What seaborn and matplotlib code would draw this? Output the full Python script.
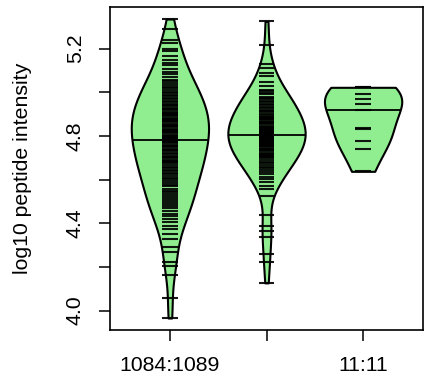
import numpy as np
import pandas as pd
import matplotlib
matplotlib.use("Agg")
import matplotlib.pyplot as plt
import seaborn as sns

# ---- data (log10 peptide intensity per group) ----
groups = ["1084:1089", "group2", "11:11"]
tick_labels = ["1084:1089", "", "11:11"]

g1_values = [
    3.966, 4.058, 4.165, 4.206, 4.221,
    4.267, 4.292,
    4.330, 4.352,
    4.372, 4.388, 4.404,
    4.421, 4.432, 4.444, 4.456,
    4.469, 4.478, 4.487, 4.496, 4.506,
    4.518, 4.526, 4.534, 4.542, 4.550, 4.558,
    4.569, 4.577, 4.585, 4.593, 4.601, 4.609,
    4.618, 4.625, 4.632, 4.639, 4.646, 4.653, 4.660,
    4.668, 4.674, 4.680, 4.686, 4.692, 4.698, 4.704, 4.710,
    4.718, 4.724, 4.730, 4.736, 4.742, 4.748, 4.754, 4.760,
    4.768, 4.773, 4.779, 4.784, 4.790, 4.795, 4.801, 4.806, 4.812,
    4.818, 4.823, 4.829, 4.834, 4.840, 4.845, 4.851, 4.856, 4.862,
    4.868, 4.873, 4.879, 4.884, 4.890, 4.895, 4.901, 4.906, 4.912,
    4.918, 4.924, 4.930, 4.936, 4.942, 4.948, 4.954, 4.960,
    4.968, 4.975, 4.982, 4.989, 4.996, 5.003, 5.010,
    5.018, 5.026, 5.034, 5.042, 5.050, 5.058,
    5.070, 5.082, 5.094, 5.106,
    5.125, 5.136, 5.150,
    5.165, 5.188, 5.199,
    5.226, 5.240,
    5.290, 5.336,
]

g2_values = [
    4.127, 4.223, 4.260, 4.336, 4.363, 4.386, 4.440, 4.523,
    4.556, 4.572, 4.589,
    4.603, 4.614, 4.626, 4.637, 4.646,
    4.653, 4.660, 4.668, 4.676, 4.683, 4.690, 4.697,
    4.702, 4.708, 4.713, 4.719, 4.724, 4.730, 4.736, 4.741, 4.747,
    4.752, 4.756, 4.761, 4.765, 4.770, 4.774, 4.779, 4.783, 4.788, 4.792, 4.797,
    4.802, 4.806, 4.811, 4.815, 4.820, 4.824, 4.829, 4.833, 4.838, 4.842, 4.847,
    4.853, 4.859, 4.862, 4.865, 4.871, 4.877, 4.883, 4.887, 4.889, 4.895,
    4.903, 4.911, 4.915, 4.919, 4.927, 4.935, 4.943, 4.948, 4.956,
    4.962, 4.968, 4.975, 4.980, 4.993, 4.999, 5.004,
    5.012, 5.027, 5.048, 5.073, 5.090, 5.113, 5.130, 5.218, 5.325,
]

g3_values = [5.023, 5.023, 4.994, 4.970, 4.945, 4.921, 4.837, 4.830, 4.775, 4.740, 4.638]

bandwidths = [0.075, 0.07, 0.08]

values_by_group = [g1_values, g2_values, g3_values]
df = pd.DataFrame({
    "group": np.repeat(groups, [len(v) for v in values_by_group]),
    "intensity": np.concatenate([np.asarray(v, float) for v in values_by_group]),
})

# ---- style ----
sns.set_style("white")
plt.rcParams["font.family"] = ["Liberation Sans", "DejaVu Sans"]

fig = plt.figure(figsize=(4.31, 3.79), dpi=100)
ax = fig.add_axes([110 / 431, 1 - 330 / 379, 313 / 431, 323 / 379])

bean_fill = "#90EE90"
line_half = 0.08

for i, (name, bw) in enumerate(zip(groups, bandwidths)):
    sub = df[df["group"] == name]
    sd = float(np.std(sub["intensity"], ddof=1))
    n_before = len(ax.collections)
    sns.violinplot(data=sub, x="group", y="intensity", order=groups, ax=ax,
                   color=bean_fill, saturation=1, linecolor="black", linewidth=1.5,
                   inner=None, cut=0, width=0.8, density_norm="width",
                   bw_method=bw / sd)
    coll = ax.collections[n_before]
    verts = coll.get_paths()[0].vertices
    right = verts[verts[:, 0] > i + 1e-9]
    order = np.argsort(right[:, 1])
    # bean lines: one short line per observation
    ax.hlines(sub["intensity"], i - line_half, i + line_half,
              color="black", alpha=0.9, linewidth=1.5, zorder=3)
    # central line across the bean
    med = float(np.median(sub["intensity"]))
    half_w = np.interp(med, right[order, 1], right[order, 0]) - i
    ax.hlines(med, i - half_w, i + half_w, color="black", linewidth=1.3, zorder=4)

ax.set_xlim(-0.62, 2.62)
ax.set_ylim(3.911, 5.391)
ax.set_xticks(range(len(groups)))
ax.set_xticklabels(tick_labels)
yt = [4.0, 4.2, 4.4, 4.6, 4.8, 5.0, 5.2]
ax.set_yticks(yt)
ax.set_yticklabels(["4.0", "", "4.4", "", "4.8", "", "5.2"])
ax.tick_params(axis="both", direction="out", length=8, width=1.1, color="black",
               labelsize=15.3, labelcolor="black", left=True, bottom=True)
ax.tick_params(axis="y", labelrotation=90, pad=10)
ax.tick_params(axis="x", pad=11)
for lab in ax.get_yticklabels():
    lab.set_verticalalignment("center")

ax.set_xlabel("")
ax.set_ylabel("log10 peptide intensity", fontsize=15.3, color="black")
ax.yaxis.set_label_coords(-0.278, 0.5)
ax.yaxis.label.set_verticalalignment("center")

for s in ax.spines.values():
    s.set_visible(True)
    s.set_color("black")
    s.set_linewidth(1.2)

fig.savefig("out.png", dpi=100)
